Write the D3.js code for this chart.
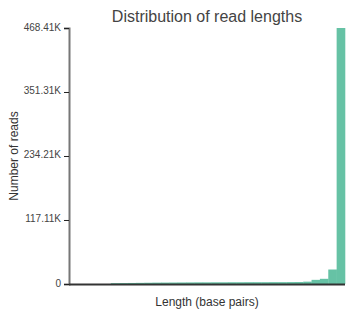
<!DOCTYPE html>
<html>
<head>
<meta charset="utf-8">
<script src="https://cdn.jsdelivr.net/npm/d3@7"></script>
<style>
  body { margin: 0; background: #fff; }
  svg { font-family: "Liberation Sans", Arial, sans-serif; }
</style>
</head>
<body>
<div id="chart"></div>
<script>
// histogram bins (index) and read counts per bin
var bins = d3.range(33);
var counts = [0, 0, 0, 0, 0, 1500, 1700, 1900, 2100, 2300, 2500, 2600, 2700, 2800, 2900, 3000,
  3000, 3100, 3100, 3200, 3200, 3300, 3300, 3300, 3400, 3400, 3500, 3600, 4300, 7600, 9500, 26500, 468410];
var yTicks = [0, 117105, 234210, 351310, 468410];
var yTickLabels = ["0", "117.11K", "234.21K", "351.31K", "468.41K"];

var w = 349, h = 318;
var margin = {top: 28, right: 4, bottom: 34, left: 69};
var innerW = w - margin.left - margin.right;
var innerH = h - margin.top - margin.bottom;

var svg = d3.select("#chart").append("svg")
  .attr("width", w)
  .attr("height", h);

var g = svg.append("g")
  .attr("transform", "translate(" + margin.left + "," + margin.top + ")");

var x = d3.scaleBand().domain(bins).range([0, innerW]).padding(0);
var y = d3.scaleLinear().domain([0, d3.max(yTicks)]).range([innerH, 0]);

// bars
g.selectAll(".bar")
  .data(bins)
  .enter()
  .append("rect")
  .attr("class", "bar")
  .attr("x", function(d) { return x(d); })
  .attr("width", x.bandwidth() + 0.3)
  .attr("y", function(d) { return y(counts[d]); })
  .attr("height", function(d) { return innerH - y(counts[d]); })
  .attr("fill", "#66c2a5");

// y axis
var yAxis = g.append("g")
  .call(d3.axisLeft(y).tickValues(yTicks).tickSize(5)
    .tickFormat(function(d, i) { return yTickLabels[i]; }));
yAxis.select(".domain").attr("stroke", "#777").attr("stroke-width", 2);
yAxis.selectAll(".tick line").attr("stroke", "#222");
yAxis.selectAll(".tick text")
  .attr("font-size", 10)
  .attr("fill", "#444")
  .attr("x", -8)
  .attr("dy", "0.2em");

// x axis (baseline only)
g.append("line")
  .attr("x1", 0)
  .attr("x2", innerW)
  .attr("y1", innerH + 0.5)
  .attr("y2", innerH + 0.5)
  .attr("stroke", "#333")
  .attr("stroke-width", 2);

// title
svg.append("text")
  .attr("x", margin.left + innerW / 2)
  .attr("y", 22)
  .attr("text-anchor", "middle")
  .attr("font-size", 16)
  .attr("fill", "#444")
  .text("Distribution of read lengths");

// axis labels
svg.append("text")
  .attr("x", margin.left + innerW / 2)
  .attr("y", 306)
  .attr("text-anchor", "middle")
  .attr("font-size", 12)
  .attr("fill", "#333")
  .text("Length (base pairs)");

svg.append("text")
  .attr("transform", "translate(18," + (margin.top + innerH / 2) + ") rotate(-90)")
  .attr("text-anchor", "middle")
  .attr("font-size", 12)
  .attr("fill", "#333")
  .text("Number of reads");
</script>
</body>
</html>
